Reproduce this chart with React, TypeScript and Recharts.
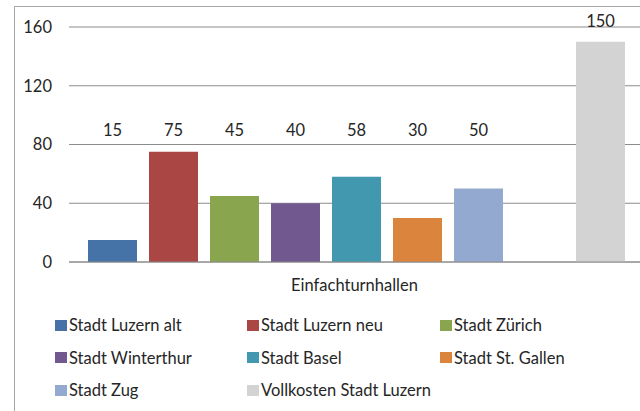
import { Bar, BarChart, CartesianGrid, LabelList, Legend, XAxis, YAxis } from "recharts";

const categories = ["Einfachturnhallen"];
const seriesNames = [
  "Stadt Luzern alt",
  "Stadt Luzern neu",
  "Stadt Zürich",
  "Stadt Winterthur",
  "Stadt Basel",
  "Stadt St. Gallen",
  "Stadt Zug",
  "",
  "Vollkosten Stadt Luzern",
];
const seriesValues = [15, 75, 45, 40, 58, 30, 50, null, 150];
const seriesColors = [
  "#4572a7",
  "#aa4643",
  "#89a54e",
  "#71588f",
  "#4198af",
  "#db843d",
  "#93a9cf",
  "transparent",
  "#d3d3d3",
];
const yTicks = [0, 40, 80, 120, 160];

const data = categories.map((name) => {
  const row: Record<string, string | number | null> = { name };
  seriesValues.forEach((v, i) => {
    row[`s${i}`] = v;
  });
  return row;
});

const FONT = "Lato, 'Open Sans', sans-serif";
const FS = 16.5;
const TEXT = "#262626";
const GRID = "#8c8c8c";

// labels of the lower bars sit in one row, like the original
const renderLabel = (props: any) => {
  const { x, y, width, value } = props;
  if (value == null) return null;
  const ty = Math.min(y - 15, 136);
  return (
    <text x={x + width / 2} y={ty} textAnchor="middle" fill={TEXT} fontSize={FS} fontFamily={FONT}>
      {value}
    </text>
  );
};

const renderLegend = () => {
  const items = seriesNames
    .map((name, i) => ({ name, color: seriesColors[i] }))
    .filter((it) => it.name !== "");
  return (
    <div
      style={{
        display: "grid",
        gridTemplateColumns: "192px 193px 190px",
        rowGap: 14.5,
        fontFamily: FONT,
        fontSize: FS,
        color: TEXT,
      }}
    >
      {items.map((it) => (
        <div key={it.name} style={{ display: "flex", alignItems: "center", height: 18, whiteSpace: "nowrap" }}>
          <span style={{ width: 12, height: 11, background: it.color, marginRight: 2, display: "inline-block" }} />
          {it.name}
        </div>
      ))}
    </div>
  );
};

export default function App() {
  return (
    <div style={{ position: "absolute", left: 0, top: 0, width: 640, height: 411, background: "#fff", overflow: "hidden" }}>
      <div
        style={{
          position: "absolute",
          left: 14,
          top: 6,
          width: 640,
          height: 420,
          borderLeft: "1px solid #a6a6a6",
          borderTop: "1px solid #a6a6a6",
        }}
      />
      <BarChart
        width={640}
        height={411}
        data={data}
        margin={{ top: 27, right: 0, bottom: 119, left: 0 }}
        barCategoryGap={19}
        barGap={12}
        style={{ position: "absolute", left: 0, top: 0 }}
      >
        <CartesianGrid vertical={false} stroke={GRID} strokeWidth={1} />
        <XAxis
          dataKey="name"
          axisLine={{ stroke: GRID }}
          tickLine={false}
          tickMargin={11}
          tick={{ fill: TEXT, fontSize: FS, fontFamily: FONT }}
        />
        <YAxis
          width={69}
          domain={[0, 160]}
          ticks={yTicks}
          axisLine={false}
          tickLine={false}
          tickSize={0}
          tickMargin={17}
          tick={{ fill: TEXT, fontSize: FS, fontFamily: FONT }}
        />
        <Legend
          layout="horizontal"
          verticalAlign="middle"
          align="center"
          content={renderLegend}
          wrapperStyle={{ position: "absolute", left: 55, top: 316, width: 585 }}
        />
        {seriesNames.map((name, i) => (
          <Bar
            key={i}
            dataKey={`s${i}`}
            name={name || "gap"}
            fill={seriesColors[i]}
            legendType={name ? "square" : "none"}
            isAnimationActive={false}
          >
            <LabelList dataKey={`s${i}`} content={renderLabel} />
          </Bar>
        ))}
      </BarChart>
    </div>
  );
}
